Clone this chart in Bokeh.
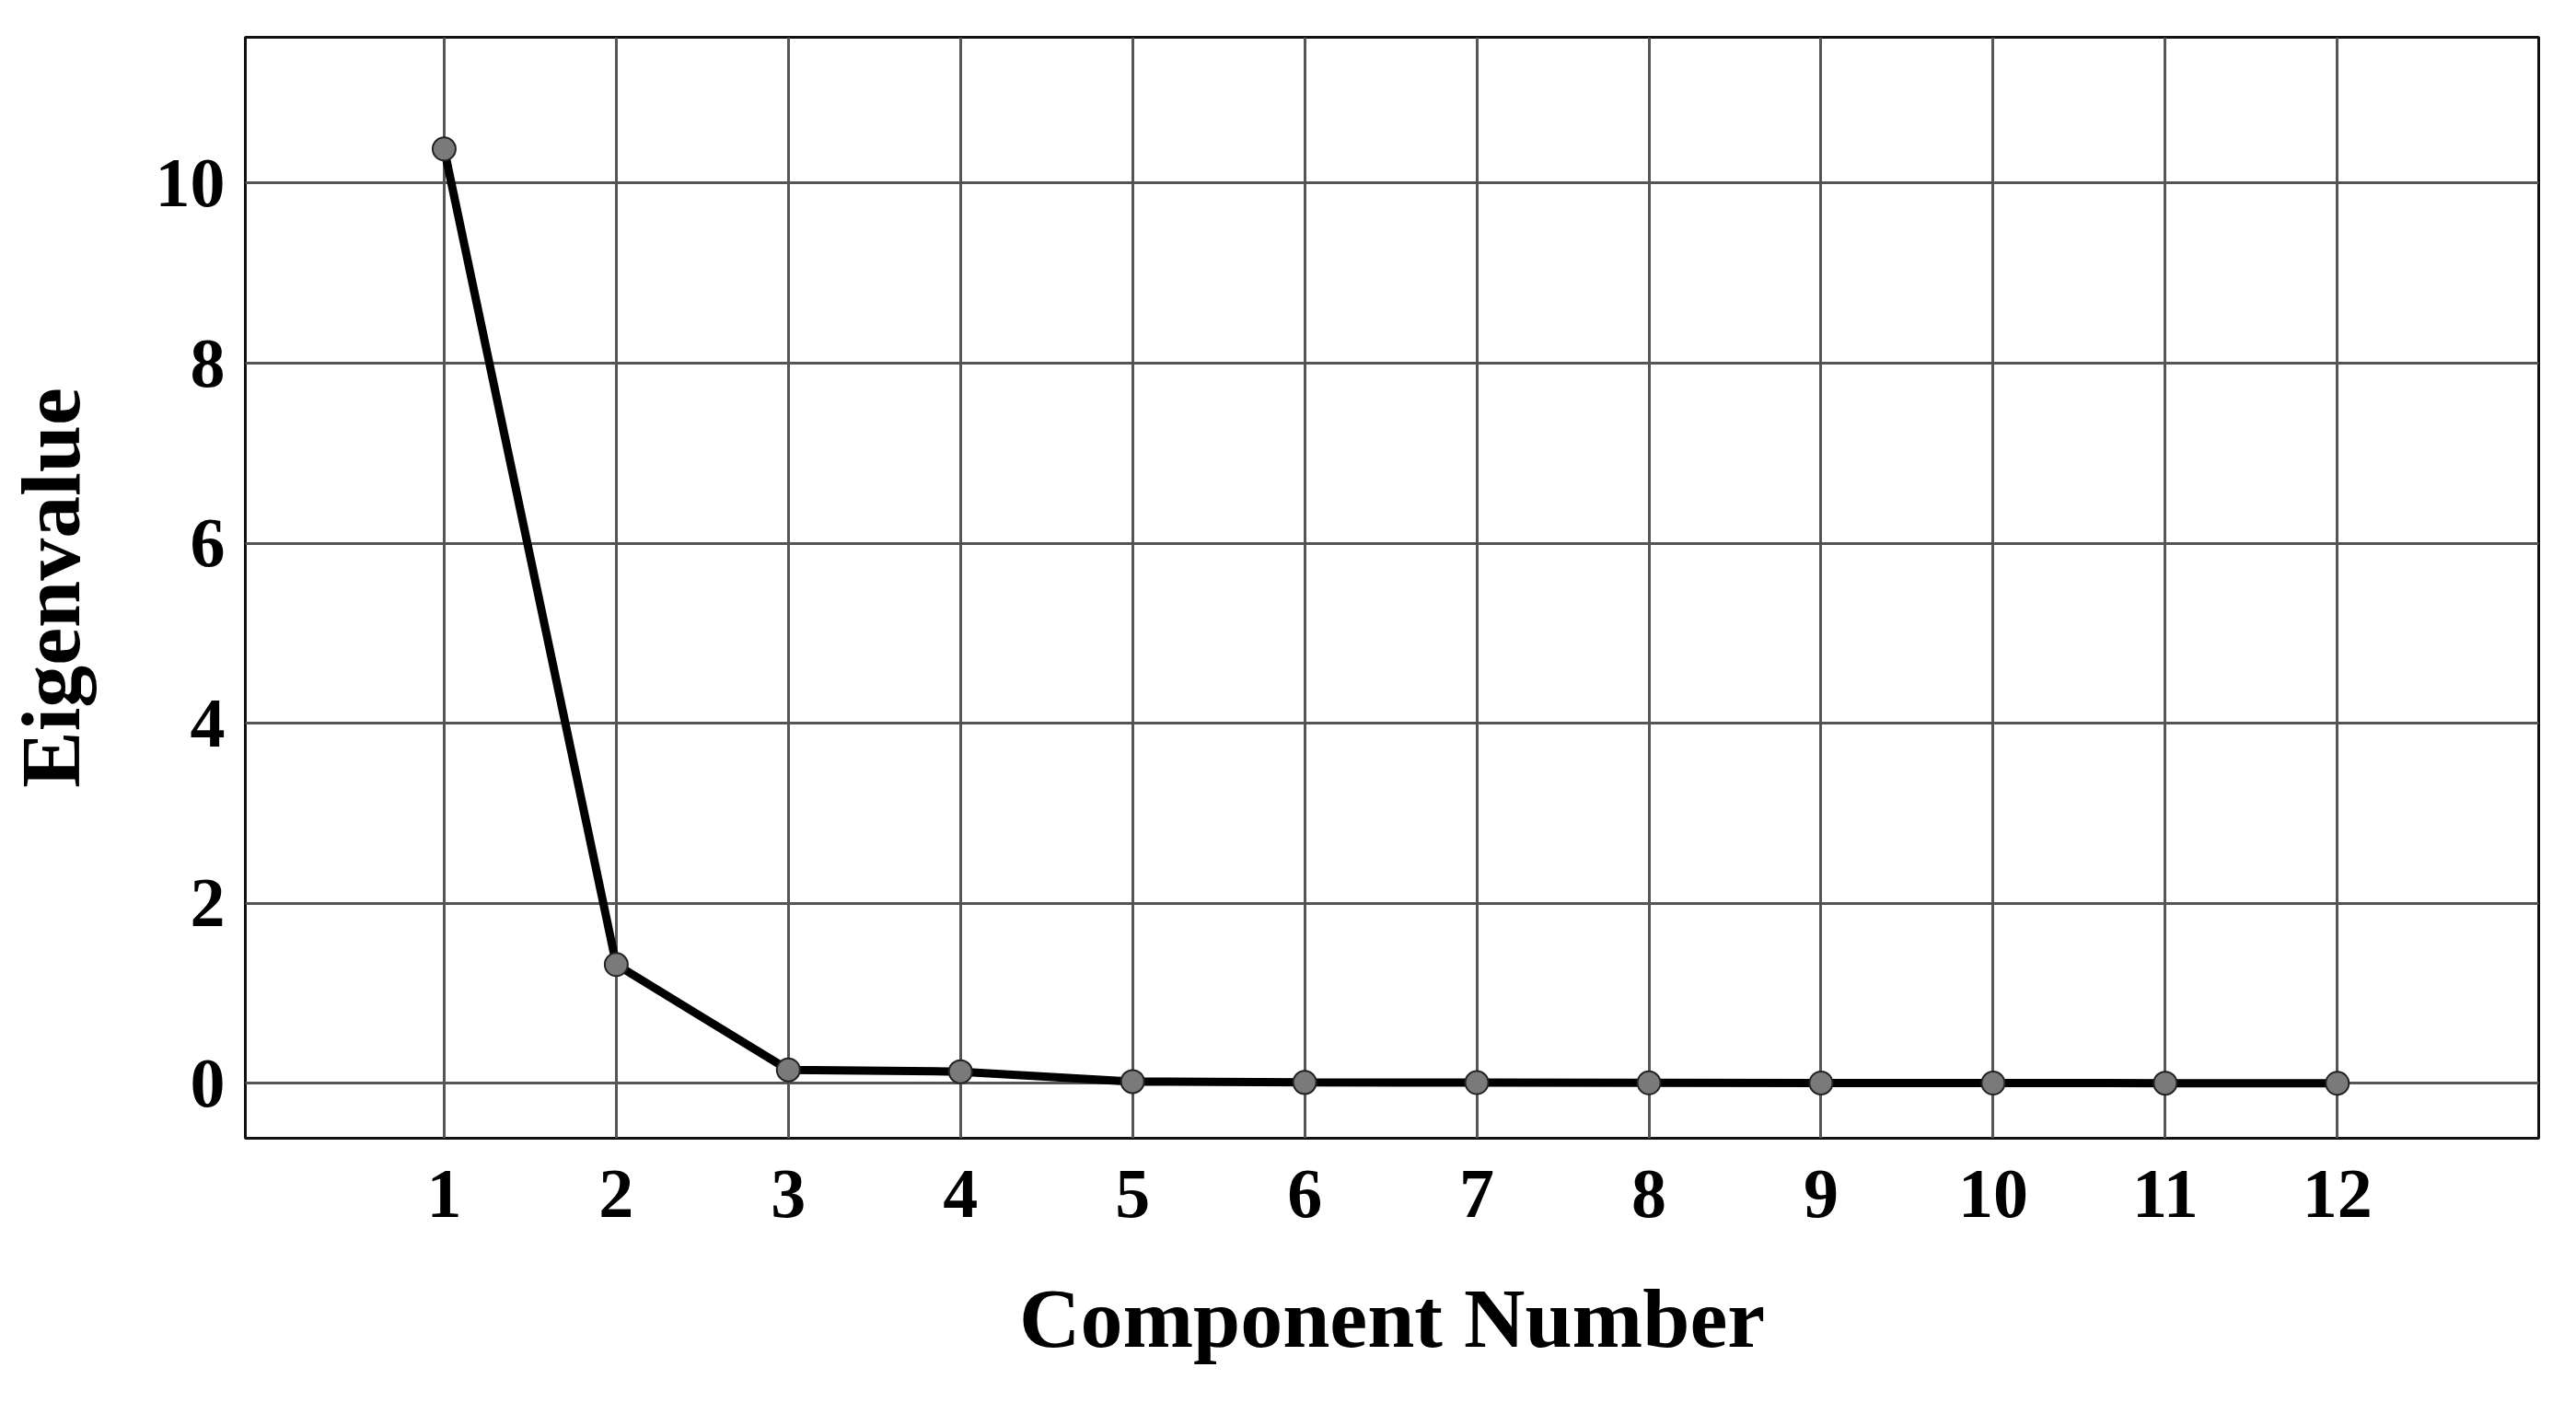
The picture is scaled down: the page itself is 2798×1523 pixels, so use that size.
from bokeh.plotting import figure
from bokeh.models import Range1d, FixedTicker
from bokeh.embed import file_html
from bokeh.resources import INLINE

components = [1, 2, 3, 4, 5, 6, 7, 8, 9, 10, 11, 12]
eigenvalues = [10.38, 1.32, 0.15, 0.13, 0.02, 0.01, 0.008, 0.006, 0.004, 0.003, 0.002, 0.001]
x_ticks = components
y_ticks = [0, 2, 4, 6, 8, 10]

FONT = "Liberation Serif"

p = figure(
    frame_width=2491, frame_height=1196,
    x_range=Range1d(-0.155, 13.17), y_range=Range1d(-0.61, 11.62),
    output_backend="svg", toolbar_location=None,
    min_border_left=255, min_border_top=40, min_border_bottom=250, min_border_right=24,
)

p.outline_line_color = "#111111"
p.outline_line_width = 3
p.background_fill_color = "white"
p.border_fill_color = "white"

for ax in (p.xaxis[0], p.yaxis[0]):
    ax.axis_line_color = None
    ax.major_tick_line_color = None
    ax.minor_tick_line_color = None
    ax.major_label_text_font = FONT
    ax.major_label_text_font_style = "bold"
    ax.major_label_text_font_size = "76px"
    ax.major_label_text_color = "black"
    ax.axis_label_text_font = FONT
    ax.axis_label_text_font_style = "bold"
    ax.axis_label_text_font_size = "92px"
    ax.axis_label_text_color = "black"

p.xaxis.ticker = FixedTicker(ticks=x_ticks)
p.yaxis.ticker = FixedTicker(ticks=y_ticks)
p.xaxis.axis_label = "Component Number"
p.yaxis.axis_label = "Eigenvalue"
p.xaxis.major_label_standoff = 29
p.yaxis.major_label_standoff = 16
p.xaxis.axis_label_standoff = 56
p.yaxis.axis_label_standoff = 60

p.xgrid.ticker = FixedTicker(ticks=x_ticks)
p.ygrid.ticker = FixedTicker(ticks=y_ticks)
for g in (p.xgrid[0], p.ygrid[0]):
    g.grid_line_color = "#555555"
    g.grid_line_width = 3

p.line(components, eigenvalues, line_color="black", line_width=9)
p.scatter(components, eigenvalues, size=25, fill_color="#7a7a7a", line_color="#222222", line_width=2)

open("out.html", "w").write(file_html(p, INLINE))
